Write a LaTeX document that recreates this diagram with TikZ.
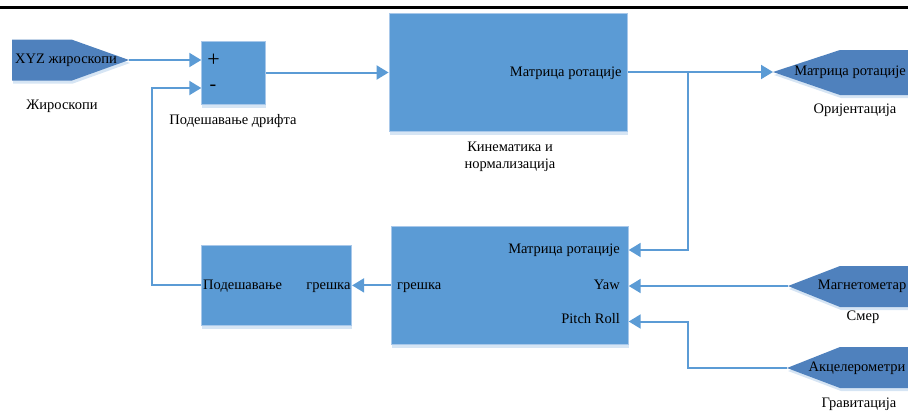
\documentclass[tikz,border=0pt]{standalone}
\usepackage{fontspec}
\setmainfont{Liberation Serif}
\usetikzlibrary{arrows.meta,shadows}
\definecolor{blockc}{HTML}{5B9BD5}
\definecolor{inc}{HTML}{4F81BD}
\definecolor{linec}{HTML}{5B9BD5}
\definecolor{bordc}{HTML}{A8C8EA}
\definecolor{shadc}{HTML}{D6E5F4}
\tikzset{
  block/.style={draw=bordc, line width=0.8pt, fill=blockc, inner sep=0pt,
    general shadow={fill=shadc, shadow yshift=-4pt, shadow xshift=0.5pt}},
  inshape/.style={fill=inc,
    general shadow={fill=shadc, shadow yshift=-3pt, shadow xshift=1pt}},
  lbl/.style={inner sep=0pt, text height=10pt, text depth=3pt,
    font=\fontsize{14.5}{16.6}\selectfont},
  conn/.style={draw=linec, line width=2pt},
  arr/.style={conn, -{Triangle[length=12pt,width=14pt]}},
}
\begin{document}
\begin{tikzpicture}[x=1pt,y=-1pt]
\useasboundingbox (0,0) rectangle (908,410);
% top rule
\draw[line width=2.6pt] (0,7.5) -- (908,7.5);

% input / output shapes
\path[inshape] (12,39.7) -- (72,39.7) -- (129,60) -- (72,80.5) -- (12,80.5) -- cycle;
\coordinate (gyro) at (129,60);
\path[inshape] (908,50) -- (840,50) -- (773,72) -- (840,95) -- (908,95) -- cycle;
\coordinate (orient) at (773,72);
\path[inshape] (908,266) -- (840,266) -- (788,286) -- (840,307) -- (908,307) -- cycle;
\coordinate (mag) at (788,286);
\path[inshape] (908,347) -- (840,347) -- (787,368) -- (840,388) -- (908,388) -- cycle;
\coordinate (acc) at (787,368);

% blocks
\node[block, minimum width=64pt, minimum height=63pt] (sum) at (233.7,72.5) {};
\node[block, minimum width=238.7pt, minimum height=117.7pt] (kin) at (508.35,72.2) {};
\node[block, minimum width=237.3pt, minimum height=118pt] (low) at (509.65,285) {};
\node[block, minimum width=150pt, minimum height=79.3pt] (adj) at (276.7,285.4) {};

% texts
\node[lbl] (tgyro) at (66,60) {XYZ жироскопи};
\node[lbl] (lgyro) at (62,106) {Жироскопи};
\node[inner sep=0pt, font=\fontsize{22}{22}\selectfont] (plus) at (213.5,60) {+};
\node[inner sep=0pt, font=\fontsize{20}{20}\selectfont] (minus) at (213,88) {-};
\node[lbl] (lsum) at (233,121) {Подешавање дрифта};
\node[lbl, anchor=east] (tkin) at (621.7,72.5) {Матрица ротације};
\node[lbl] (lkin1) at (510,148) {Кинематика и};
\node[lbl] (lkin2) at (510,164.5) {нормализација};
\node[lbl, anchor=east] (torient) at (906,72) {Матрица ротације};
\node[lbl] (lorient) at (855,110) {Оријентација};
\node[lbl, anchor=east] (tlow1) at (620,250) {Матрица ротације};
\node[lbl, anchor=east] (tlow2) at (620,286) {Yaw};
\node[lbl, anchor=east] (tlow3) at (620,319.5) {Pitch Roll};
\node[lbl, anchor=west] (tlow4) at (397,286) {грешка};
\node[lbl, anchor=east] (tmag) at (906.5,286) {Магнетометар};
\node[lbl] (lmag) at (863,317) {Смер};
\node[lbl, anchor=east] (tacc) at (905.5,368) {Акцелерометри};
\node[lbl] (lacc) at (859,404) {Гравитација};
\node[lbl, anchor=west] (tadj1) at (203,285.5) {Подешавање};
\node[lbl, anchor=east] (tadj2) at (350.7,285.5) {грешка};

% connector helper coordinates
\coordinate (br) at (688,72);
\coordinate (in1) at (688,250);
\coordinate (in3) at (688,321.5);
\coordinate (fb) at (151.7,88);

% connectors
\draw[arr] (gyro) -- (sum.west |- gyro);
\draw[arr] (sum.east) -- (kin.west |- sum.east);
\draw[arr] (kin.east |- br) -- (orient);
\draw[arr] (br) -- (in1) -- (low.east |- in1);
\draw[arr] (mag) -- (low.east |- mag);
\draw[arr] (acc) -- (in3 |- acc) -- (in3) -- (low.east |- in3);
\draw[arr] (low.west |- adj.east) -- (adj.east);
\draw[arr] (adj.west) -- (fb |- adj.west) -- (fb) -- (sum.west |- fb);
\end{tikzpicture}
\end{document}
